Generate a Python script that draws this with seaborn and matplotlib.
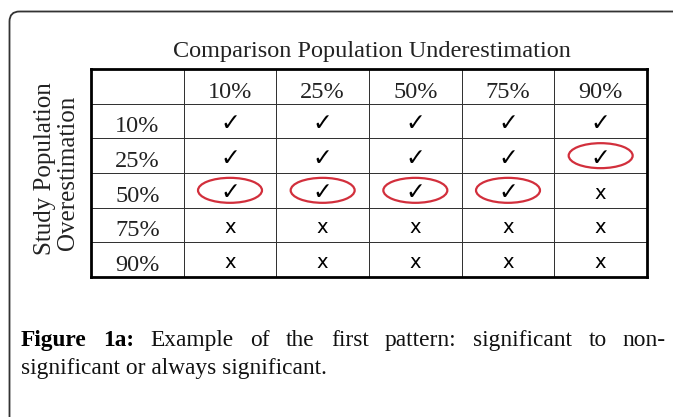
import numpy as np
import pandas as pd
import seaborn as sns
import matplotlib.pyplot as plt
from matplotlib.patches import Ellipse, FancyBboxPatch
from matplotlib.colors import ListedColormap

# table content
cols = ['10%', '25%', '50%', '75%', '90%']
rows = ['10%', '25%', '50%', '75%', '90%']
# 1 = significant (check), 0 = non-significant (x)
marks = [
    [1, 1, 1, 1, 1],
    [1, 1, 1, 1, 1],
    [1, 1, 1, 1, 0],
    [0, 0, 0, 0, 0],
    [0, 0, 0, 0, 0],
]
# (row, col) cells with a red circle
circled = [(1, 4), (2, 0), (2, 1), (2, 2), (2, 3)]

title = 'Comparison Population Underestimation'
ylab1 = 'Study Population'
ylab2 = 'Overestimation'
cap_bold = ['Figure', '1a:']
cap_line1 = ['Example', 'of', 'the', 'first', 'pattern:', 'significant', 'to', 'non-']
cap_line2 = 'significant or always significant.'

sns.set_theme(style='white')
plt.rcParams['font.family'] = ['Liberation Serif', 'DejaVu Sans']

fig = plt.figure(figsize=(6.73, 4.17), dpi=100)

# background axes in pixel units for the frame and caption
bg = fig.add_axes([0, 0, 1, 1])
bg.set_xlim(0, 673)
bg.set_ylim(417, 0)
bg.axis('off')
bg.add_patch(FancyBboxPatch((9.5, 11.5), 700, 450,
                            boxstyle='round,pad=0,rounding_size=10',
                            fc='none', ec='#333333', lw=1.3))

ax = fig.add_axes([91 / 673, 1 - 277 / 417, 556 / 673, 208 / 417])
grid = pd.DataFrame(np.zeros((6, 6)))
sns.heatmap(grid, ax=ax, cmap=ListedColormap(['white']), vmin=0, vmax=1,
            cbar=False, linewidths=0.7, linecolor='#333333',
            xticklabels=False, yticklabels=False)
for s in ax.spines.values():
    s.set_visible(True)
    s.set_linewidth(2)
    s.set_color('black')

for j, c in enumerate(cols):
    ax.text(j + 1.5, 1 - 0.17, c, ha='center', va='baseline', fontsize=17.5, color='#222222')
for i, r in enumerate(rows):
    ax.text(0.5, i + 2 - 0.17, r, ha='center', va='baseline', fontsize=17.5, color='#222222')

for i in range(len(rows)):
    for j in range(len(cols)):
        if marks[i][j]:
            ax.text(j + 1.5, i + 1.5 + 0.06, '\u2713', family='DejaVu Sans',
                    ha='center', va='center', fontsize=17, color='black')
        else:
            ax.text(j + 1.5, i + 2 - 0.26, 'x', family='DejaVu Sans',
                    ha='center', va='baseline', fontsize=14, color='black')

for i, j in circled:
    ax.add_patch(Ellipse((j + 1.5, i + 1.5), 64 / 92.7, 25 / 34.7, fill=False,
                         ec='#d22f3c', lw=1.6, zorder=5, clip_on=False))

fig.text(372 / 673, 1 - 57 / 417, title, ha='center', va='baseline', fontsize=17.5, color='#222222')
fig.text(45 / 673, 1 - 169 / 417, ylab1, rotation=90, ha='center', va='center', fontsize=18, color='#222222')
fig.text(68 / 673, 1 - 173 / 417, ylab2, rotation=90, ha='center', va='center', fontsize=18, color='#222222')

# justified first caption line
texts = []
for w in cap_bold:
    texts.append(bg.text(0, 346, w, fontsize=16.8, fontweight='bold', va='baseline', color='black'))
for w in cap_line1:
    texts.append(bg.text(0, 346, w, fontsize=16.8, va='baseline', color='#111111'))
fig.canvas.draw()
renderer = fig.canvas.get_renderer()
widths = [t.get_window_extent(renderer).width for t in texts]
gap = (666 - 21 - sum(widths)) / (len(texts) - 1)
x = 21
for t, w in zip(texts, widths):
    t.set_x(x)
    x += w + gap

bg.text(21, 374, cap_line2, fontsize=16.8, va='baseline', color='#111111')

fig.savefig('out.png', dpi=100)
